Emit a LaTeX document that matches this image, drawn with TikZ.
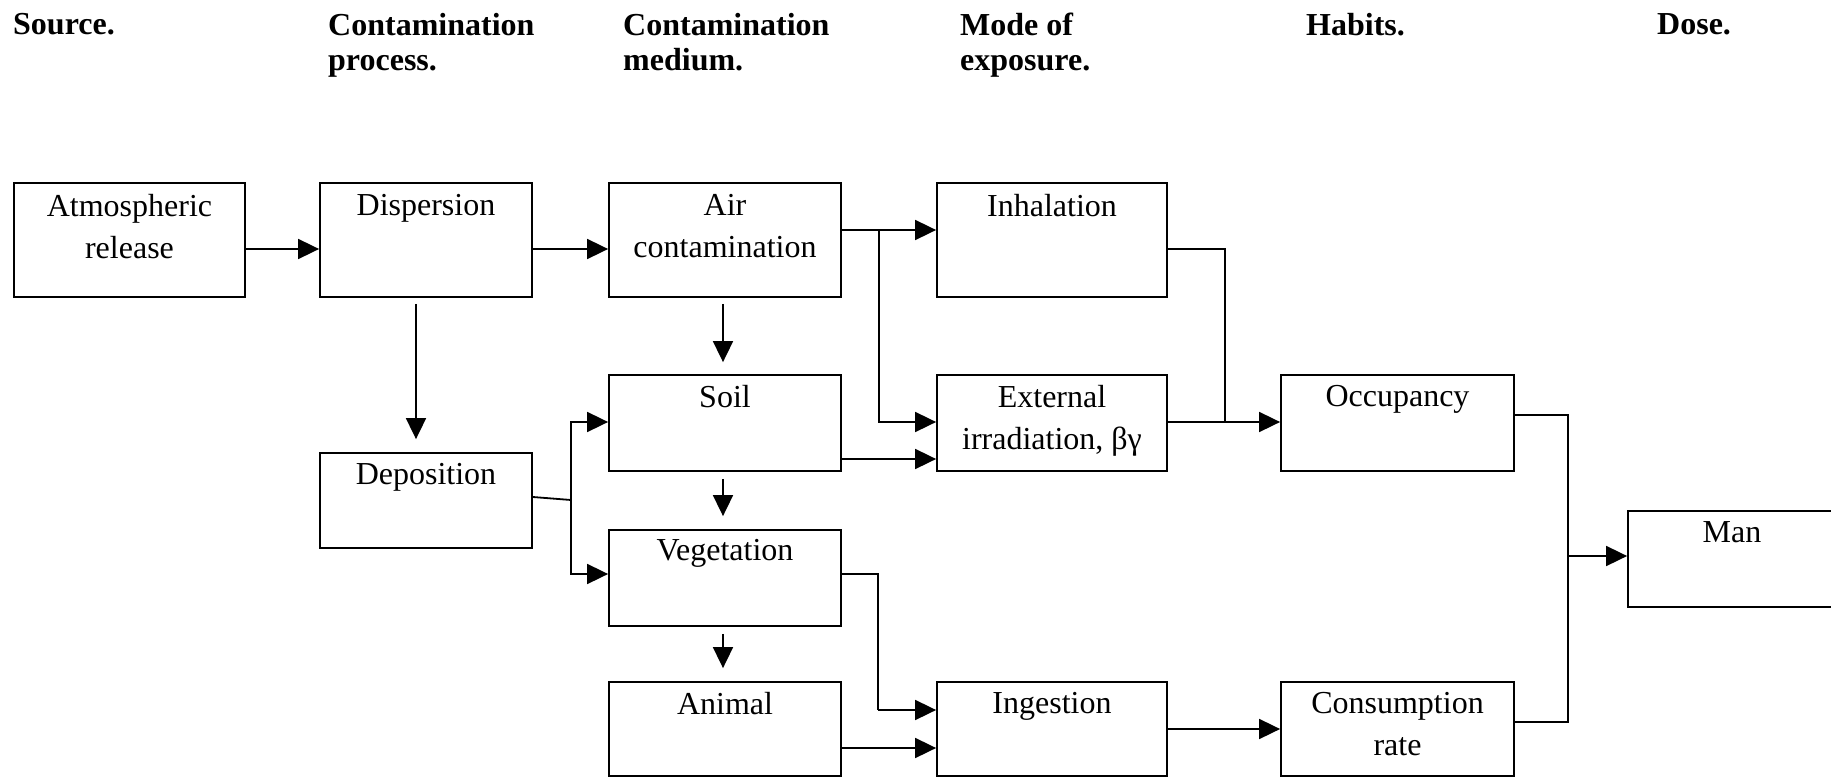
\documentclass[tikz,border=0pt]{standalone}
\usepackage{fontspec}
\setmainfont{Liberation Serif}
\usetikzlibrary{arrows.meta}
\tikzset{
  box/.style 2 args={draw, line width=1.8pt, inner sep=0pt, minimum width=#1, minimum height=#2},
  btxt/.style={font=\fontsize{32}{42}\selectfont, align=center, inner sep=0pt, anchor=north},
  htxt/.style={font=\bfseries\fontsize{32}{35}\selectfont, align=left, inner sep=0pt, anchor=north west},
  ln/.style={line width=1.8pt},
  arr/.style={line width=1.8pt, -{Triangle[length=21pt,width=20pt]}},
}
\begin{document}
\begin{tikzpicture}[x=1pt,y=-1pt]
\useasboundingbox (0,0) rectangle (1831,778);
\clip (0,0) rectangle (1831,778);
% headers
\node[htxt] (h1) at (13,13) {Source.};
\node[htxt] (h2) at (328,13) {Contamination\\process.};
\node[htxt] (h3) at (623,13) {Contamination\\medium.};
\node[htxt] (h4) at (960,13) {Mode of\\exposure.};
\node[htxt] (h5) at (1306,13) {Habits.};
\node[htxt] (h6) at (1657,13) {Dose.};
% boxes
\node[box={231pt}{114pt}] (atm) at (129.5,240) {};
\node[box={212pt}{114pt}] (disp) at (426,240) {};
\node[box={232pt}{114pt}] (air) at (725,240) {};
\node[box={230pt}{114pt}] (inh) at (1052,240) {};
\node[box={232pt}{96pt}] (soil) at (725,423) {};
\node[box={230pt}{96pt}] (ext) at (1052,423) {};
\node[box={233pt}{96pt}] (occ) at (1397.5,423) {};
\node[box={212pt}{95pt}] (dep) at (426,500.5) {};
\node[box={232pt}{96pt}] (veg) at (725,578) {};
\node[box={232pt}{94pt}] (ani) at (725,729) {};
\node[box={230pt}{94pt}] (ing) at (1052,729) {};
\node[box={233pt}{94pt}] (cons) at (1397.5,729) {};
\node[box={208pt}{96pt}] (man) at (1732,559) {};
% texts
\node[btxt] (atmT) at ([yshift=-12pt]atm.north) {Atmospheric\\release};
\node[btxt] (dispT) at ([yshift=-12pt]disp.north) {Dispersion};
\node[btxt] (airT) at ([yshift=-12pt]air.north) {Air\\contamination};
\node[btxt] (inhT) at ([yshift=-12pt]inh.north) {Inhalation};
\node[btxt] (soilT) at ([yshift=-11pt]soil.north) {Soil};
\node[btxt] (extT) at ([yshift=-11pt]ext.north) {External\\irradiation, βγ};
\node[btxt] (occT) at ([yshift=-11pt]occ.north) {Occupancy};
\node[btxt] (depT) at ([yshift=-11pt]dep.north) {Deposition};
\node[btxt] (vegT) at ([yshift=-10pt]veg.north) {Vegetation};
\node[btxt] (aniT) at ([yshift=-11pt]ani.north) {Animal};
\node[btxt] (ingT) at ([yshift=-11pt]ing.north) {Ingestion};
\node[btxt] (consT) at ([yshift=-11pt]cons.north) {Consumption\\rate};
\node[btxt] (manT) at ([yshift=-11pt]man.north) {Man};
% helper coordinates
\coordinate (y230) at (0,230);
\coordinate (y249) at (0,249);
\coordinate (y415) at (0,415);
\coordinate (y422) at (0,422);
\coordinate (y459) at (0,459);
\coordinate (y497) at (0,497);
\coordinate (y556) at (0,556);
\coordinate (y574) at (0,574);
\coordinate (y710) at (0,710);
\coordinate (y722) at (0,722);
\coordinate (y729) at (0,729);
\coordinate (y748) at (0,748);
\coordinate (x416) at (416,0);
\coordinate (x723) at (723,0);
\coordinate (dj) at (571,500);
\coordinate (aj) at (879,230);
\coordinate (ij) at (1225,422);
\coordinate (vj) at (878,710);
\coordinate (mj) at (1568,556);
% connectors
\draw[arr] (atm.east |- y249) -- (disp.west |- y249);
\draw[arr] (disp.east |- y249) -- (air.west |- y249);
\draw[arr, shorten <=6pt, shorten >=13pt] (disp.south -| x416) -- (dep.north -| x416);
\draw[arr, shorten <=6pt, shorten >=12pt] (air.south -| x723) -- (soil.north -| x723);
\draw[arr, shorten <=7pt, shorten >=13pt] (soil.south -| x723) -- (veg.north -| x723);
\draw[arr, shorten <=7pt, shorten >=13pt] (veg.south -| x723) -- (ani.north -| x723);
\draw[ln] (dep.east |- y497) -- (dj);
\draw[arr] (dj) |- (soil.west |- y422);
\draw[arr] (dj) |- (veg.west |- y574);
\draw[arr] (air.east |- y230) -- (inh.west |- y230);
\draw[arr] (aj) |- (ext.west |- y422);
\draw[arr] (soil.east |- y459) -- (ext.west |- y459);
\draw[ln] (inh.east |- y249) -| (ij);
\draw[arr] (ext.east |- y422) -- (occ.west |- y422);
\draw[ln] (veg.east |- y574) -| (vj);
\draw[arr] (vj) -- (ing.west |- y710);
\draw[arr] (ani.east |- y748) -- (ing.west |- y748);
\draw[arr] (ing.east |- y729) -- (cons.west |- y729);
\draw[ln] (occ.east |- y415) -| (mj);
\draw[ln] (cons.east |- y722) -| (mj);
\draw[arr] (mj) -- (man.west |- y556);
\end{tikzpicture}
\end{document}
